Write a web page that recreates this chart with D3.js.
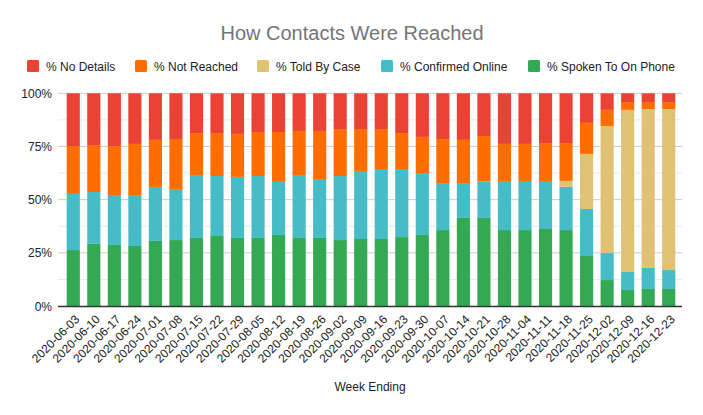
<!DOCTYPE html>
<html><head><meta charset="utf-8">
<script src="https://cdn.jsdelivr.net/npm/d3@7"></script>
<style>body{margin:0;background:#fff;} text{font-family:"Liberation Sans", Arial, sans-serif;}</style>
</head><body>
<svg id="chart" width="703" height="415"></svg>
<script>
const weeks = ["2020-06-03","2020-06-10","2020-06-17","2020-06-24","2020-07-01","2020-07-08","2020-07-15","2020-07-22","2020-07-29","2020-08-05","2020-08-12","2020-08-19","2020-08-26","2020-09-02","2020-09-09","2020-09-16","2020-09-23","2020-09-30","2020-10-07","2020-10-14","2020-10-21","2020-10-28","2020-11-04","2020-11-11","2020-11-18","2020-11-25","2020-12-02","2020-12-09","2020-12-16","2020-12-23"];
const spokenToOnPhone = [26.3,29.2,28.7,28.2,30.6,31.0,32.0,32.9,32.0,32.0,33.4,32.0,32.0,31.0,31.5,31.5,32.4,33.4,35.7,41.4,41.4,35.7,35.7,36.2,35.7,23.5,12.2,7.5,8.0,8.0];
const confirmedOnline = [26.4,24.4,23.5,24.0,25.4,24.0,29.6,28.2,28.7,29.1,25.4,29.6,27.7,30.1,32.0,32.9,32.0,29.1,22.1,16.4,17.1,23.1,23.1,22.6,20.3,22.1,12.7,8.5,9.9,8.9];
const toldByCase = [0,0,0,0,0,0,0,0,0,0,0,0,0,0,0,0,0,0,0,0,0,0,0,0,2.8,25.9,59.7,76.2,74.7,75.7];
const notReached = [22.5,22.1,23.0,24.0,22.1,23.5,19.7,20.2,20.2,20.7,23.0,20.7,22.6,22.1,19.7,18.8,16.9,17.0,20.7,20.3,21.4,17.4,17.4,17.8,17.8,14.6,7.6,3.7,3.3,3.3];
const noDetails = [24.8,24.3,24.8,23.8,21.9,21.5,18.7,18.7,19.1,18.2,18.2,17.7,17.7,16.8,16.8,16.8,18.7,20.5,21.5,21.9,20.1,23.8,23.8,23.4,23.4,13.9,7.8,4.1,4.1,4.1];
const yTicks = [0,25,50,75,100];
const seriesNames = ["% Spoken To On Phone","% Confirmed Online","% Told By Case","% Not Reached","% No Details"];
const seriesColors = ["#34a853","#46bdc6","#e0c275","#ff6d01","#ea4335"];
const legendOrder = [4,3,2,1,0];

const keys = ["phone","online","told","notReached","noDetails"];
const rows = weeks.map((w,i)=>({week:w, phone:spokenToOnPhone[i], online:confirmedOnline[i], told:toldByCase[i], notReached:notReached[i], noDetails:noDetails[i]}));
rows.forEach(r=>{const t=keys.reduce((s,k)=>s+r[k],0); keys.forEach(k=>r[k]=r[k]/t*100);});
const stack = d3.stack().keys(keys)(rows);

const svg = d3.select("#chart");
const x = d3.scaleBand().domain(weeks).range([63,679]).paddingInner(0.36).paddingOuter(0.18);
const y = d3.scaleLinear().domain([0,100]).range([306,93.3]);

// gridlines
const minor = d3.range(12.5,100,25);
svg.append("g").selectAll("line").data(minor).join("line")
  .attr("x1",58).attr("x2",682).attr("y1",d=>y(d)).attr("y2",d=>y(d))
  .attr("stroke","#ebebeb").attr("stroke-width",1);
svg.append("g").selectAll("line").data(yTicks.slice(1)).join("line")
  .attr("x1",58).attr("x2",682).attr("y1",d=>y(d)).attr("y2",d=>y(d))
  .attr("stroke","#cccccc").attr("stroke-width",1);

// bars
svg.append("g").selectAll("g").data(stack).join("g")
  .attr("fill",(d,i)=>seriesColors[i])
  .selectAll("rect").data(d=>d).join("rect")
  .attr("x",d=>x(d.data.week)).attr("width",x.bandwidth())
  .attr("y",d=>y(d[1])).attr("height",d=>Math.max(0,y(d[0])-y(d[1])));

// baseline
svg.append("line").attr("x1",58).attr("x2",682).attr("y1",306.5).attr("y2",306.5).attr("stroke","#333").attr("stroke-width",1.3);

// y labels
svg.append("g").selectAll("text").data(yTicks).join("text")
  .attr("x",52).attr("y",d=>y(d)+4.5).attr("text-anchor","end")
  .attr("font-size",12).attr("fill","#222").text(d=>d+"%");

// x labels
svg.append("g").selectAll("text").data(weeks).join("text")
  .attr("transform",d=>`translate(${x(d)+x.bandwidth()/2+7},${320}) rotate(-45)`)
  .attr("text-anchor","end").attr("font-size",12).attr("fill","#222").text(d=>d);

// axis title
svg.append("text").attr("x",370).attr("y",391).attr("text-anchor","middle")
  .attr("font-size",12).attr("fill","#222").text("Week Ending");

// title
svg.append("text").attr("x",352).attr("y",40).attr("text-anchor","middle")
  .attr("font-size",20).attr("fill","#757575").text("How Contacts Were Reached");

// legend
const legendX = [27,135,257,381,528];
const lg = svg.append("g").selectAll("g").data(legendOrder).join("g")
  .attr("transform",(d,i)=>`translate(${legendX[i]},60)`);
lg.append("rect").attr("width",12).attr("height",12).attr("rx",1.5).attr("fill",d=>seriesColors[d]);
lg.append("text").attr("x",19).attr("y",10.5).attr("font-size",12).attr("fill","#222").text(d=>seriesNames[d]);
</script>
</body></html>
